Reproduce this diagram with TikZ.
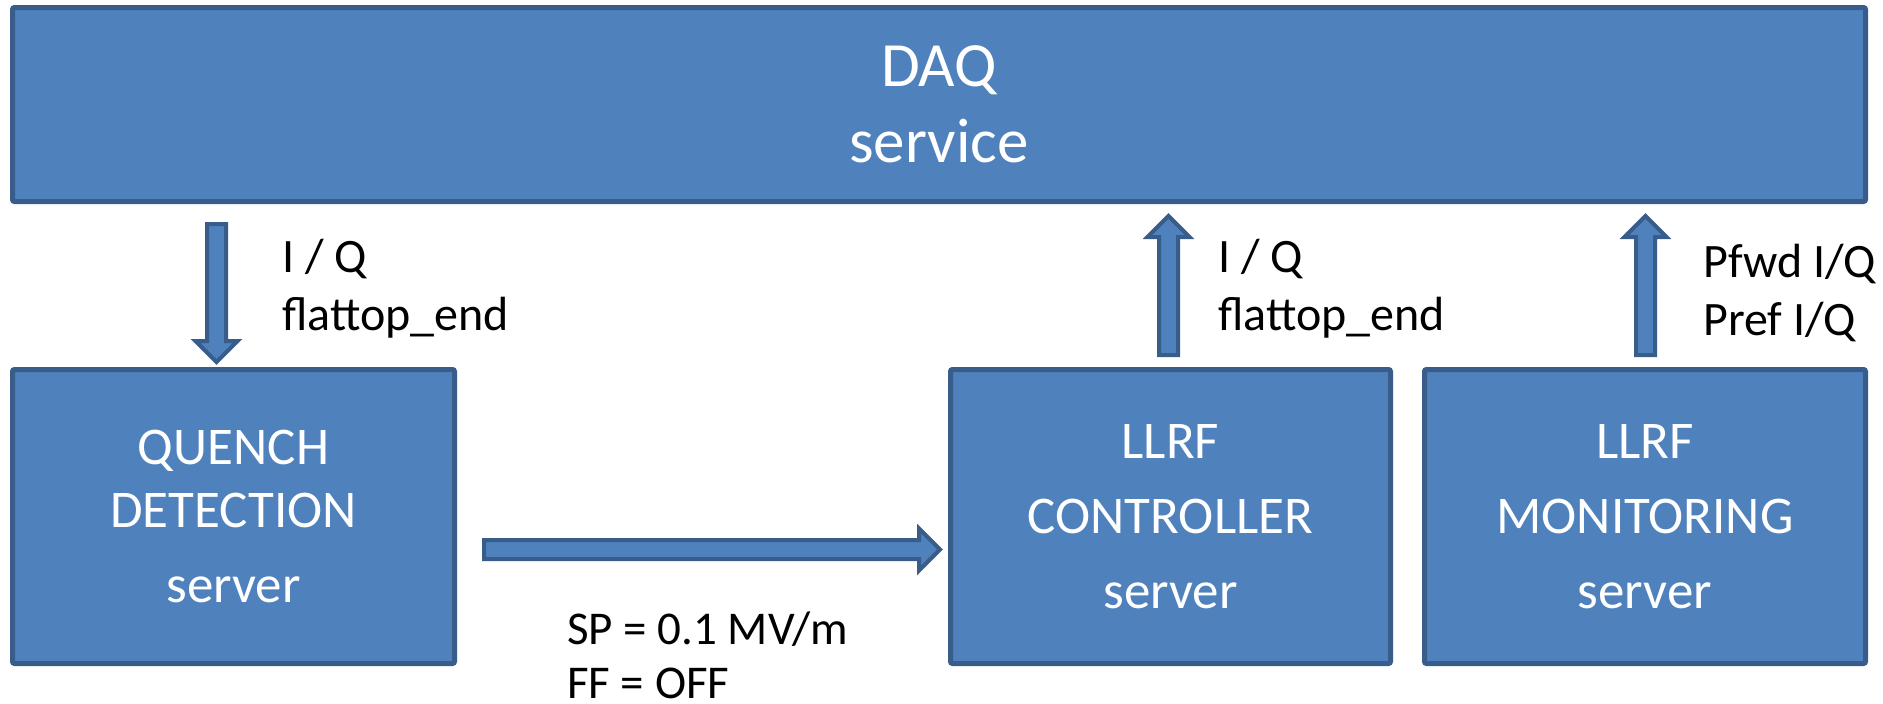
\documentclass[tikz,border=0pt]{standalone}
\usepackage{fontspec}
\setmainfont{Carlito}
\definecolor{boxfill}{HTML}{4F81BD}
\definecolor{boxline}{HTML}{385D8A}
\begin{document}
\begin{tikzpicture}[x=1pt,y=-1pt,
  box/.style={draw=boxline, fill=boxfill, line width=5pt, rounded corners=2pt,
    text=white, align=center, inner sep=0pt},
  boxfont/.style={font=\fontsize{53}{75}\selectfont},
  lbl/.style={text=black, align=left, inner sep=0pt, anchor=base west,
    font=\fontsize{48}{58}\selectfont},
  barrowline/.style={draw=boxline, fill=boxfill, line width=4pt, line join=miter},
  pics/barrow/.style={code={\path[barrowline] (0,-9.5) -- (#1-21,-9.5) -- (#1-21,-21)
     -- (#1,0) -- (#1-21,21) -- (#1-21,9.5) -- (0,9.5) -- cycle;}}]
\useasboundingbox (0,0) rectangle (1883,704);
% boxes
\node[box, minimum width=1853, minimum height=194, font=\fontsize{63}{76}\selectfont]
  (daq) at (939,104.5) {DAQ\\service};
\node[box, boxfont, minimum width=442, minimum height=294]
  (quench) at (233.5,516.5) {QUENCH\\[-12pt]DETECTION\\server};
\node[box, boxfont, minimum width=440, minimum height=294]
  (ctrl) at (1170.5,516.5) {LLRF\\CONTROLLER\\server};
\node[box, boxfont, minimum width=441, minimum height=294]
  (mon) at (1645,516.5) {LLRF\\MONITORING\\server};
% block arrows
\coordinate (qa) at (216.5,224);
\coordinate (ca) at (1168.5,355);
\coordinate (ma) at (1645.5,355);
\coordinate (ha) at (484,549.5);
\pic[rotate=-90] at (qa) {barrow=138};
\pic[rotate=90] at (ca) {barrow=139};
\pic[rotate=90] at (ma) {barrow=139};
\pic at (ha) {barrow=456};
% labels (anchored at the baseline of the last line)
\node[lbl] (lq) at (282,330) {I / Q\\flattop\_end};
\node[lbl] (lc) at (1218,330) {I / Q\\flattop\_end};
\node[lbl] (lm) at (1703,335) {Pfwd I/Q\\Pref I/Q};
\node[lbl, font=\fontsize{47}{54}\selectfont] (lsp) at (567,698) {SP = 0.1 MV/m\\FF = OFF};
\end{tikzpicture}
\end{document}
